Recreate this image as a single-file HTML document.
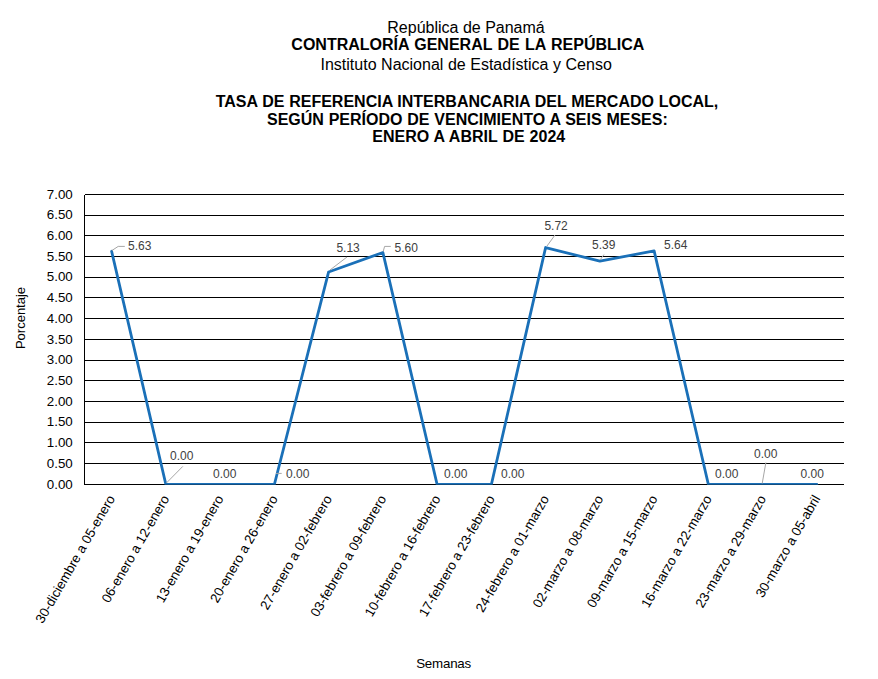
<!DOCTYPE html>
<html><head><meta charset="utf-8"><title>Chart</title>
<style>
html,body{margin:0;padding:0;background:#fff;}
body{width:878px;height:679px;overflow:hidden;font-family:"Liberation Sans",sans-serif;}
svg{display:block;}
text{font-family:"Liberation Sans",sans-serif;}
</style></head><body>
<svg width="878" height="679" viewBox="0 0 878 679">
<rect width="878" height="679" fill="#fff"/>
<text x="387.30" y="32.6" font-size="16" fill="#000">República de Panamá</text>
<text x="291.35" y="50.4" font-size="16" font-weight="bold" word-spacing="0.85" fill="#000">CONTRALORÍA GENERAL DE LA REPÚBLICA</text>
<text x="320.50" y="69.7" font-size="16" word-spacing="0.1" fill="#000">Instituto Nacional de Estadística y Censo</text>
<text x="215.70" y="107.0" font-size="16" font-weight="bold" word-spacing="0.3" fill="#000">TASA DE REFERENCIA INTERBANCARIA DEL MERCADO LOCAL,</text>
<text x="266.99" y="124.7" font-size="16" font-weight="bold" word-spacing="0.37" fill="#000">SEGÚN PERÍODO DE VENCIMIENTO A SEIS MESES:</text>
<text x="372.25" y="142.4" font-size="16" font-weight="bold" word-spacing="0.52" fill="#000">ENERO A ABRIL DE 2024</text>
<g stroke="#000" stroke-width="1" shape-rendering="crispEdges">
<line x1="84.5" y1="194.50" x2="844.0" y2="194.50"/>
<line x1="84.5" y1="215.50" x2="844.0" y2="215.50"/>
<line x1="84.5" y1="235.50" x2="844.0" y2="235.50"/>
<line x1="84.5" y1="256.50" x2="844.0" y2="256.50"/>
<line x1="84.5" y1="277.50" x2="844.0" y2="277.50"/>
<line x1="84.5" y1="297.50" x2="844.0" y2="297.50"/>
<line x1="84.5" y1="318.50" x2="844.0" y2="318.50"/>
<line x1="84.5" y1="339.50" x2="844.0" y2="339.50"/>
<line x1="84.5" y1="360.50" x2="844.0" y2="360.50"/>
<line x1="84.5" y1="380.50" x2="844.0" y2="380.50"/>
<line x1="84.5" y1="401.50" x2="844.0" y2="401.50"/>
<line x1="84.5" y1="422.50" x2="844.0" y2="422.50"/>
<line x1="84.5" y1="442.50" x2="844.0" y2="442.50"/>
<line x1="84.5" y1="463.50" x2="844.0" y2="463.50"/>
<line x1="84.5" y1="484.50" x2="844.0" y2="484.50"/>
<line x1="84.5" y1="194.5" x2="84.5" y2="484.5"/>
</g>
<text x="72.8" y="198.60" font-size="13.33" text-anchor="end" fill="#000">7.00</text>
<text x="72.8" y="219.31" font-size="13.33" text-anchor="end" fill="#000">6.50</text>
<text x="72.8" y="240.03" font-size="13.33" text-anchor="end" fill="#000">6.00</text>
<text x="72.8" y="260.74" font-size="13.33" text-anchor="end" fill="#000">5.50</text>
<text x="72.8" y="281.46" font-size="13.33" text-anchor="end" fill="#000">5.00</text>
<text x="72.8" y="302.17" font-size="13.33" text-anchor="end" fill="#000">4.50</text>
<text x="72.8" y="322.89" font-size="13.33" text-anchor="end" fill="#000">4.00</text>
<text x="72.8" y="343.60" font-size="13.33" text-anchor="end" fill="#000">3.50</text>
<text x="72.8" y="364.31" font-size="13.33" text-anchor="end" fill="#000">3.00</text>
<text x="72.8" y="385.03" font-size="13.33" text-anchor="end" fill="#000">2.50</text>
<text x="72.8" y="405.74" font-size="13.33" text-anchor="end" fill="#000">2.00</text>
<text x="72.8" y="426.46" font-size="13.33" text-anchor="end" fill="#000">1.50</text>
<text x="72.8" y="447.17" font-size="13.33" text-anchor="end" fill="#000">1.00</text>
<text x="72.8" y="467.89" font-size="13.33" text-anchor="end" fill="#000">0.50</text>
<text x="72.8" y="488.60" font-size="13.33" text-anchor="end" fill="#000">0.00</text>
<clipPath id="pc"><rect x="84.5" y="189.5" width="759.5" height="295.5"/></clipPath>
<polyline clip-path="url(#pc)" points="111.62,251.26 165.88,484.50 220.12,484.50 274.38,484.50 328.62,271.97 382.88,252.50 437.12,484.50 491.38,484.50 545.62,247.53 599.88,261.20 654.12,250.84 708.38,484.50 762.62,484.50 816.88,484.50" fill="none" stroke="#1a70b8" stroke-width="2.8" stroke-linejoin="round" stroke-linecap="round"/>
<line x1="84.5" y1="484.5" x2="844.0" y2="484.5" stroke="#000" stroke-opacity="0.3" stroke-width="1" shape-rendering="crispEdges"/>
<text x="128" y="250" font-size="12" fill="#404040">5.63</text>
<text x="170" y="460" font-size="12" fill="#404040">0.00</text>
<text x="213" y="477.6" font-size="12" fill="#404040">0.00</text>
<text x="286" y="477.6" font-size="12" fill="#404040">0.00</text>
<text x="336.4" y="252" font-size="12" fill="#404040">5.13</text>
<text x="394.5" y="252" font-size="12" fill="#404040">5.60</text>
<text x="444" y="477.6" font-size="12" fill="#404040">0.00</text>
<text x="501" y="477.6" font-size="12" fill="#404040">0.00</text>
<text x="544.4" y="230" font-size="12" fill="#404040">5.72</text>
<text x="592" y="249" font-size="12" fill="#404040">5.39</text>
<text x="664" y="249" font-size="12" fill="#404040">5.64</text>
<text x="715" y="477.6" font-size="12" fill="#404040">0.00</text>
<text x="754" y="457.6" font-size="12" fill="#404040">0.00</text>
<text x="800.6" y="478.3" font-size="12" fill="#404040">0.00</text>
<g stroke="#a6a6a6" stroke-width="1" fill="none">
<polyline points="111.8,250.6 118.2,246.4 124.8,246.4"/>
<polyline points="166.4,483 182.8,466.4"/>
<polyline points="276,473.4 281.7,473.4"/>
<polyline points="330,270 347,257"/>
<polyline points="383.2,251.5 384.6,246.4 390.8,246.4"/>
<polyline points="547,246 555,235"/>
<polyline points="600,260 604,254.5"/>
<polyline points="762.2,483.5 765.9,462.5"/>
</g>
<text transform="translate(115.42,498.50) rotate(-60)" font-size="13.33" text-anchor="end" fill="#000">30-diciembre a 05-enero</text>
<text transform="translate(169.68,498.50) rotate(-60)" font-size="13.33" text-anchor="end" fill="#000">06-enero a 12-enero</text>
<text transform="translate(223.93,498.50) rotate(-60)" font-size="13.33" text-anchor="end" fill="#000">13-enero a 19-enero</text>
<text transform="translate(278.18,498.50) rotate(-60)" font-size="13.33" text-anchor="end" fill="#000">20-enero a 26-enero</text>
<text transform="translate(332.43,498.50) rotate(-60)" font-size="13.33" text-anchor="end" fill="#000">27-enero a 02-febrero</text>
<text transform="translate(386.68,498.50) rotate(-60)" font-size="13.33" text-anchor="end" fill="#000">03-febrero a 09-febrero</text>
<text transform="translate(440.93,498.50) rotate(-60)" font-size="13.33" text-anchor="end" fill="#000">10-febrero a 16-febrero</text>
<text transform="translate(495.18,498.50) rotate(-60)" font-size="13.33" text-anchor="end" fill="#000">17-febrero a 23-febrero</text>
<text transform="translate(549.42,498.50) rotate(-60)" font-size="13.33" text-anchor="end" fill="#000">24-febrero a 01-marzo</text>
<text transform="translate(603.67,498.50) rotate(-60)" font-size="13.33" text-anchor="end" fill="#000">02-marzo a 08-marzo</text>
<text transform="translate(657.92,498.50) rotate(-60)" font-size="13.33" text-anchor="end" fill="#000">09-marzo a 15-marzo</text>
<text transform="translate(712.17,498.50) rotate(-60)" font-size="13.33" text-anchor="end" fill="#000">16-marzo a 22-marzo</text>
<text transform="translate(766.42,498.50) rotate(-60)" font-size="13.33" text-anchor="end" fill="#000">23-marzo a 29-marzo</text>
<text transform="translate(820.67,498.50) rotate(-60)" font-size="13.33" text-anchor="end" fill="#000">30-marzo a 05-abril</text>
<text x="443.6" y="667.7" font-size="13.33" letter-spacing="-0.22" text-anchor="middle" fill="#000">Semanas</text>
<text transform="translate(24.9,318) rotate(-90)" font-size="13" text-anchor="middle" fill="#000">Porcentaje</text>
</svg>
</body></html>
